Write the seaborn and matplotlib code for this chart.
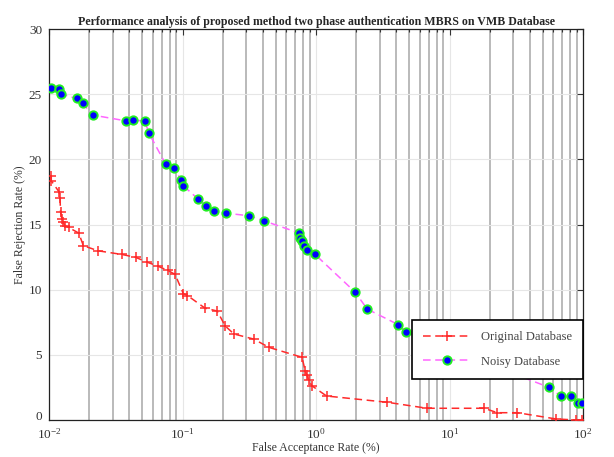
import numpy as np
import pandas as pd
import matplotlib
matplotlib.use("Agg")
import matplotlib.pyplot as plt
import matplotlib.transforms as mtransforms
import seaborn as sns
from matplotlib.ticker import LogLocator

# ---- data ----
orig_far = [0.0104, 0.0104, 0.0119, 0.0121, 0.0122, 0.0125, 0.0128, 0.0132, 0.0140,
            0.0167, 0.0181, 0.0234, 0.0352, 0.0446, 0.054, 0.0652, 0.0775, 0.088,
            0.1014, 0.109, 0.147, 0.182, 0.209, 0.243, 0.341, 0.445, 0.786, 0.83,
            0.853, 0.88, 0.93, 1.2, 3.42, 6.78, 18.2, 22.8, 32.2, 62.8, 89.0, 99.0]
orig_frr = [18.7, 18.35, 17.5, 17.0, 15.97, 15.41, 15.16, 14.9, 14.78,
            14.34, 13.37, 12.98, 12.7, 12.48, 12.12, 11.81, 11.48, 11.17,
            9.7, 9.55, 8.59, 8.36, 7.21, 6.6, 6.21, 5.57, 4.81, 3.76,
            3.45, 3.07, 2.63, 1.84, 1.36, 0.9, 0.9, 0.56, 0.56, 0.08, 0.0, 0.0]

noisy_far = [0.0104, 0.0119, 0.0123, 0.0161, 0.0179, 0.0212, 0.0377, 0.0426, 0.0521,
             0.0561, 0.0748, 0.0859, 0.098, 0.1014, 0.131, 0.150, 0.173, 0.211,
             0.316, 0.405, 0.742, 0.763, 0.79, 0.815, 0.85, 0.978, 1.96, 2.42,
             4.14, 4.72, 55.9, 68.4, 81.3, 91.3, 98.0]
noisy_frr = [25.5, 25.4, 25.0, 24.67, 24.3, 23.4, 22.95, 23.0, 22.95,
             22.0, 19.63, 19.3, 18.43, 17.97, 16.95, 16.43, 16.0, 15.87,
             15.67, 15.29, 14.36, 14.0, 13.7, 13.37, 13.04, 12.73, 9.82, 8.51,
             7.31, 6.73, 2.5, 1.82, 1.82, 1.30, 1.30]

series_names = ["Original Database", "Noisy Database"]
title = "Performance analysis of proposed method two phase authentication MBRS on VMB Database"
xlabel = "False Acceptance Rate (%)"
ylabel = "False Rejection Rate (%)"
y_ticks = [0, 5, 10, 15, 20, 25, 30]

sns.set_style("white")
plt.rcParams['font.family'] = ['Liberation Serif', 'DejaVu Serif']
plt.rcParams['mathtext.fontset'] = 'stix'

fig = plt.figure(figsize=(6.14, 4.57), dpi=100)
ax = fig.add_axes([49/614, 1-420/457, (583-49)/614, (420-29)/457])

df_o = pd.DataFrame({"far": orig_far, "frr": orig_frr})
df_n = pd.DataFrame({"far": noisy_far, "frr": noisy_frr})

sns.lineplot(data=df_o, x="far", y="frr", ax=ax, estimator=None, sort=False,
             color="#ff2a2a", linestyle=(0, (5, 3)), linewidth=1.1,
             marker="+", markersize=7, markeredgewidth=1.1,
             markeredgecolor="#ff2a2a", label=series_names[0], zorder=3)
sns.lineplot(data=df_n, x="far", y="frr", ax=ax, estimator=None, sort=False,
             color="#ff66ff", linestyle=(0, (5, 3)), linewidth=1.1,
             marker="o", markersize=6, markerfacecolor="#0000ff",
             markeredgecolor="#22ee22", markeredgewidth=1.4,
             label=series_names[1], zorder=3)

ax.set_xscale("log")
ax.set_xlim(0.01, 100)
ax.set_ylim(0, 30)
ax.set_yticks(y_ticks)
ax.xaxis.set_major_locator(LogLocator(base=10, numticks=10))
ax.xaxis.set_minor_locator(LogLocator(base=10, subs=np.arange(2, 10), numticks=50))

ax.grid(True, which="major", axis="both", color="#e6e6e6", linewidth=0.8, zorder=0)
ax.grid(True, which="minor", axis="x", color="#8c8c8c", linewidth=1.2, alpha=0.7, zorder=0)
ax.set_axisbelow(True)

ax.tick_params(axis="both", which="both", direction="in", top=True, right=True,
               labelsize=9.5, colors="#333333", labelcolor="#333333")
ax.tick_params(axis="x", which="major", pad=5)
ax.tick_params(axis="y", which="major", pad=5)
ax.tick_params(axis="both", which="major", length=4, width=0.8)
ax.tick_params(axis="both", which="minor", length=2.5, width=0.8)
for s in ax.spines.values():
    s.set_color("#222222")
    s.set_linewidth(0.9)

ax.set_title(title, fontsize=8.6, fontweight="bold", pad=3)
ax.set_xlabel(xlabel, fontsize=8.5, color="#333333", labelpad=0)
ax.set_ylabel(ylabel, fontsize=8.5, color="#333333", labelpad=2)

leg = ax.legend(loc="lower right", bbox_to_anchor=(1.0, 0.105), frameon=True,
                fancybox=False, edgecolor="black", framealpha=1, fontsize=9,
                borderpad=0.9, labelspacing=1.0, handlelength=3.8,
                borderaxespad=0.0)
leg.get_frame().set_linewidth(1.2)
for t in leg.get_texts():
    t.set_color("#444444")

# nudge the bottom y label up a little so it clears the first x label
fig.canvas.draw()
ylabels = ax.get_yticklabels()
offset = mtransforms.ScaledTranslation(0, 3/72, fig.dpi_scale_trans)
ylabels[0].set_transform(ylabels[0].get_transform() + offset)

fig.savefig("out.png", dpi=100)
